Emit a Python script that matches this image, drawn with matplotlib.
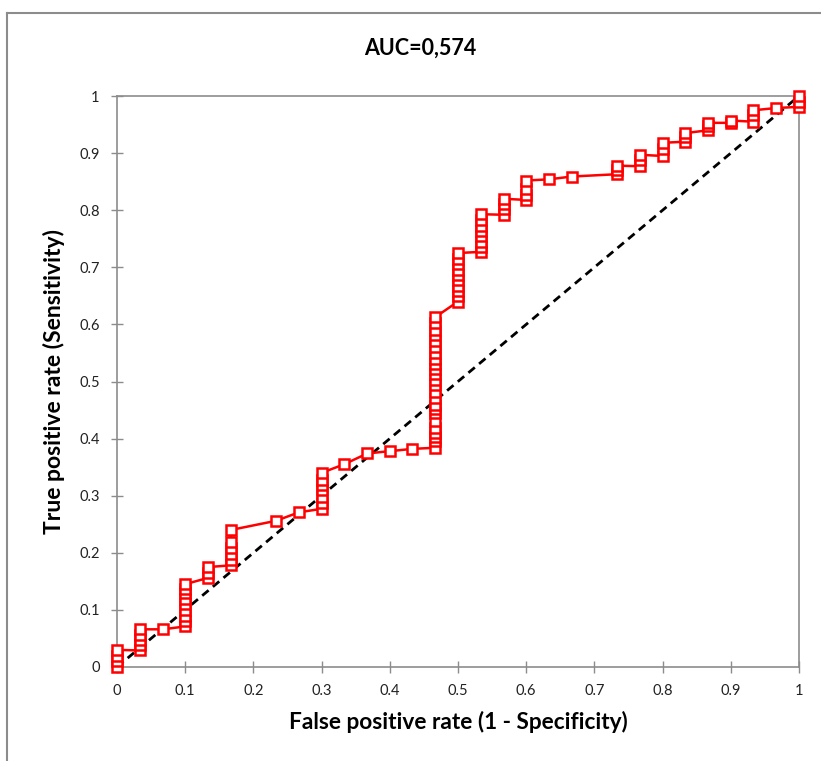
import numpy as np
import matplotlib
matplotlib.use('Agg')
import matplotlib.pyplot as plt
from matplotlib.lines import Line2D

plt.rcParams['font.family'] = ['Lato', 'DejaVu Sans']

# ROC points (false positive rate, true positive rate)
fpr = [0, 0, 0, 0,
       0.033, 0.033, 0.033, 0.033, 0.033,
       0.067,
       0.1, 0.1, 0.1, 0.1, 0.1, 0.1, 0.1, 0.1, 0.1,
       0.133, 0.133, 0.133,
       0.167, 0.167, 0.167, 0.167, 0.167, 0.167,
       0.233, 0.267,
       0.3, 0.3, 0.3, 0.3, 0.3, 0.3, 0.3,
       0.333, 0.367, 0.4, 0.433,
       0.467, 0.467, 0.467, 0.467, 0.467, 0.467, 0.467, 0.467, 0.467, 0.467, 0.467, 0.467,
       0.467, 0.467, 0.467, 0.467, 0.467, 0.467, 0.467, 0.467, 0.467, 0.467, 0.467, 0.467,
       0.5, 0.5, 0.5, 0.5, 0.5, 0.5, 0.5, 0.5, 0.5, 0.5,
       0.533, 0.533, 0.533, 0.533, 0.533, 0.533, 0.533, 0.533,
       0.567, 0.567, 0.567, 0.567,
       0.6, 0.6, 0.6, 0.6,
       0.633, 0.667,
       0.733, 0.733, 0.733,
       0.767, 0.767, 0.767,
       0.8, 0.8, 0.8,
       0.833, 0.833, 0.833,
       0.867, 0.867, 0.867,
       0.9, 0.9,
       0.933, 0.933, 0.933,
       0.967,
       1, 1, 1]
tpr = [0, 0.010, 0.020, 0.030,
       0.029, 0.038, 0.047, 0.056, 0.066,
       0.066,
       0.071, 0.080, 0.090, 0.100, 0.110, 0.119, 0.129, 0.137, 0.145,
       0.156, 0.165, 0.175,
       0.178, 0.187, 0.198, 0.208, 0.219, 0.240,
       0.256, 0.271,
       0.277, 0.287, 0.298, 0.310, 0.319, 0.328, 0.340,
       0.355, 0.374, 0.378, 0.382,
       0.384, 0.395, 0.403, 0.410, 0.419, 0.431, 0.444, 0.452, 0.459, 0.471, 0.482, 0.493,
       0.503, 0.513, 0.522, 0.531, 0.540, 0.550, 0.561, 0.571, 0.581, 0.591, 0.602, 0.613,
       0.640, 0.649, 0.659, 0.668, 0.677, 0.687, 0.696, 0.706, 0.715, 0.725,
       0.727, 0.736, 0.745, 0.754, 0.763, 0.772, 0.782, 0.793,
       0.792, 0.802, 0.811, 0.820,
       0.818, 0.827, 0.837, 0.852,
       0.854, 0.859,
       0.863, 0.870, 0.878,
       0.877, 0.888, 0.897,
       0.895, 0.908, 0.918,
       0.920, 0.928, 0.935,
       0.940, 0.947, 0.953,
       0.953, 0.957,
       0.955, 0.967, 0.975,
       0.979,
       0.981, 0.990, 1.0]

diag = [0, 1]
ticks = [0, 0.1, 0.2, 0.3, 0.4, 0.5, 0.6, 0.7, 0.8, 0.9, 1]
tick_labels = ['0', '0.1', '0.2', '0.3', '0.4', '0.5', '0.6', '0.7', '0.8', '0.9', '1']

fig = plt.figure(figsize=(8.21, 7.61), dpi=100)
ax = fig.add_axes([117/821, 94/761, 682/821, 571/761])

ax.plot(diag, diag, color='black', linestyle=(0, (3, 2)), linewidth=2, zorder=2)
ax.plot(fpr, tpr, color='#ff0000', linewidth=1.8, marker='s', markersize=6.5,
        markerfacecolor='white', markeredgecolor='#ff0000', markeredgewidth=1.8,
        zorder=3, clip_on=False)

ax.set_xlim(0, 1)
ax.set_ylim(0, 1)
ax.set_xticks(ticks)
ax.set_xticklabels(tick_labels)
ax.set_yticks(ticks)
ax.set_yticklabels(tick_labels)

for s in ax.spines.values():
    s.set_color('#8c8c8c')
    s.set_linewidth(1.2)

ax.tick_params(axis='both', direction='inout', length=9, width=1, color='#8c8c8c',
               labelsize=10.5, labelcolor='#222222')
ax.tick_params(axis='x', pad=8)
ax.tick_params(axis='y', pad=8)

ax.set_xlabel('False positive rate (1 - Specificity)', fontsize=16.3, fontweight='bold', labelpad=9)
ax.set_ylabel('True positive rate (Sensitivity)', fontsize=16.5, fontweight='bold', labelpad=10)

fig.text(420/821, 1 - 48/761, 'AUC=0,574', ha='center', va='center', fontsize=15.5, fontweight='bold')

# chart area border (cropped on right and bottom)
fig.add_artist(Line2D([7/821, 1], [1 - 13/761, 1 - 13/761], color='#8c8c8c', linewidth=1.5))
fig.add_artist(Line2D([7/821, 7/821], [0, 1 - 13/761], color='#8c8c8c', linewidth=1.5))

fig.savefig('out.png', dpi=100)
